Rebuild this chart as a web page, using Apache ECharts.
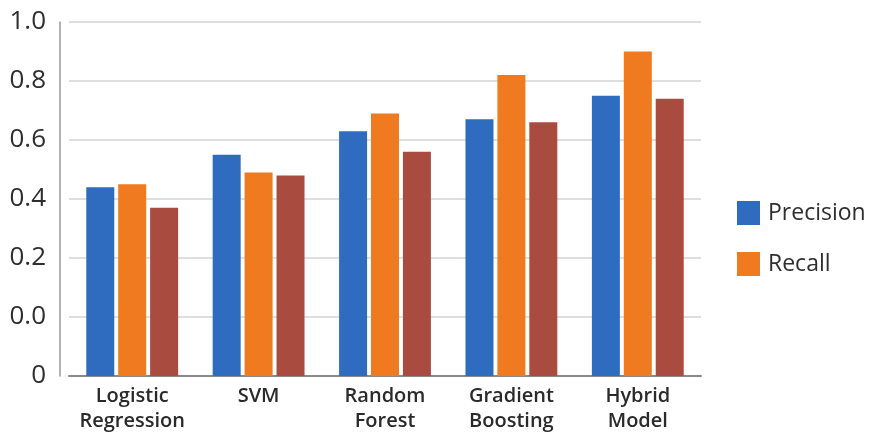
<!DOCTYPE html>
<html>
<head>
<meta charset="utf-8">
<script src="https://cdn.jsdelivr.net/npm/echarts@6/dist/echarts.min.js"></script>
<style>
  html, body { margin: 0; padding: 0; background: #fff; }
  #chart { width: 872px; height: 441px; }
</style>
</head>
<body>
<div id="chart"></div>
<script>
// categories and values
var models = ["Logistic\nRegression", "SVM", "Random\nForest", "Gradient\nBoosting", "Hybrid\nModel"];
var precision = [0.44, 0.55, 0.63, 0.67, 0.75];
var recall = [0.45, 0.49, 0.69, 0.82, 0.90];
var third = [0.37, 0.48, 0.56, 0.66, 0.74];
// tick labels as printed (bottom "0" sits one step below "0.0")
var yTicks = ["0", "0.0", "0.2", "0.4", "0.6", "0.8", "1.0"];
var shift = 0.2; // the axis base lies one step under 0.0

var font = "'Open Sans', 'Noto Sans', sans-serif";
var chart = echarts.init(document.getElementById("chart"), null, { renderer: "canvas" });

function lift(arr) {
  return arr.map(function (v) { return +(v + shift).toFixed(3); });
}

var option = {
  backgroundColor: "#fff",
  animation: false,
  textStyle: { fontFamily: font },
  grid: { left: 69, right: 171, top: 22, bottom: 65 },
  legend: {
    orient: "vertical",
    left: 732,
    top: 196,
    itemWidth: 23,
    itemHeight: 24,
    itemGap: 27,
    icon: "rect",
    data: ["Precision", "Recall"],
    textStyle: { fontSize: 23, color: "#2e2e2e", fontFamily: font, padding: [0, 0, 0, 3] }
  },
  xAxis: {
    type: "category",
    data: models,
    axisLine: { lineStyle: { color: "#8a8a8a", width: 2 } },
    axisTick: { show: false },
    axisLabel: {
      interval: 0,
      hideOverlap: false,
      color: "#2a2a2a",
      fontSize: 20,
      fontWeight: 600,
      lineHeight: 25,
      margin: 8,
      fontFamily: font
    }
  },
  yAxis: {
    type: "value",
    min: 0,
    max: 1.2,
    interval: 0.2,
    offset: 9,
    axisLine: { show: true, lineStyle: { color: "#9a9a9a", width: 1.5 } },
    axisTick: { show: false },
    splitLine: { lineStyle: { color: "#dedede", width: 2 } },
    axisLabel: {
      color: "#2e2e2e",
      fontSize: 26,
      margin: 14,
      fontFamily: font,
      formatter: function (v) {
        return yTicks[Math.round(v / 0.2)];
      }
    }
  },
  series: [
    {
      name: "Precision",
      type: "bar",
      data: lift(precision),
      barWidth: 28,
      barGap: "14%",
      itemStyle: { color: "#2f6cc0" }
    },
    {
      name: "Recall",
      type: "bar",
      data: lift(recall),
      barWidth: 28,
      barGap: "14%",
      itemStyle: { color: "#f07a1f" }
    },
    {
      name: "F1",
      type: "bar",
      data: lift(third),
      barWidth: 28,
      barGap: "14%",
      itemStyle: { color: "#a94b3f" }
    }
  ]
};

chart.setOption(option);
</script>
</body>
</html>
